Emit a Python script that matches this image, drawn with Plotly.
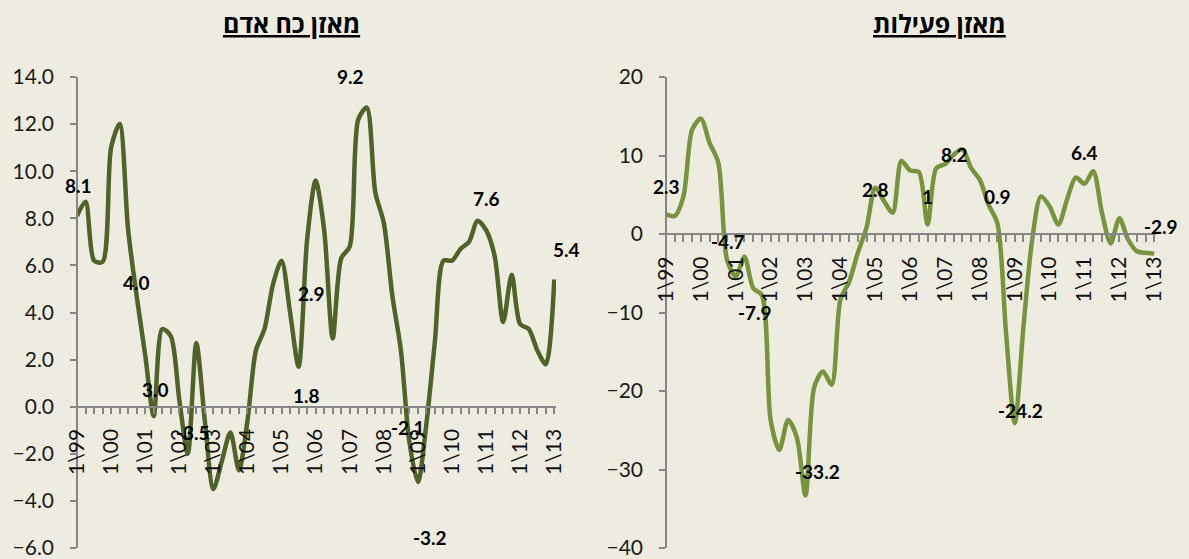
import plotly.graph_objects as go

# Quarterly data, 1/1999 .. 1/2013 (57 quarters)
tick_years = ["99", "00", "01", "02", "03", "04", "05", "06", "07", "08", "09", "10", "11", "12", "13"]
tick_labels = ["1\\" + y for y in tick_years]

manpower = [8.1, 8.7, 6.2, 6.15, 11.0, 12.0, 7.5, 4.7, 2.2, -0.4, 3.3, 3.0, 0.3, -2.0, 2.7, -0.6,
            -3.5, -2.3, -1.1, -2.7, -0.6, 2.4, 3.3, 5.2, 6.2, 4.0, 1.7, 7.1, 9.6, 7.5, 2.9, 6.3,
            6.8, 12.2, 12.7, 9.1, 7.8, 4.7, 2.4, -1.5, -3.2, -0.7, 2.8, 6.2, 6.2, 6.7, 7.0, 7.9,
            7.5, 6.4, 3.6, 5.6, 3.5, 3.3, 2.4, 1.8, 5.4]

activity = [2.5, 2.3, 4.8, 13.3, 14.7, 11.6, 9.1, -3.3, -5.4, -2.9, -6.9, -7.8, -23.7, -27.5, -23.7, -25.9,
            -33.3, -19.5, -17.5, -19.2, -8.4, -6.1, -2.4, 0.8, 5.9, 4.2, 2.7, 9.3, 8.1, 7.9, 1.2, 8.4,
            8.9, 10.1, 10.8, 8.4, 6.9, 3.7, 1.4, -12.6, -24.1, -11.8, -0.7, 4.8, 3.5, 1.2, 4.4, 7.2,
            6.4, 8.0, 2.7, -1.2, 2.0, -0.7, -2.2, -2.4, -2.5]

# data labels: (quarter index, text)
manpower_labels = [(0, "8.1"), (7, "4.0"), (9, "3.0"), (16, "-3.5"), (26, "1.8"), (30, "2.9"),
                   (34, "9.2"), (39, "-2.1"), (40, "-3.2"), (48, "7.6"), (56, "5.4")]
activity_labels = [(0, "2.3"), (7, "-4.7"), (11, "-7.9"), (16, "-33.2"), (24, "2.8"), (30, "1"),
                   (33, "8.2"), (38, "0.9"), (40, "-24.2"), (48, "6.4"), (56, "-2.9")]

title_left = "מאזן כח אדם"
title_right = "מאזן פעילות"

# label pixel offsets (style)
off_left = [(1, 30), (0, 14), (2, 27), (-20, 57), (8, -29), (-21, 45), (-16, 31), (-1, 15), (12, -55), (0, 32), (12, 30)]
off_right = [(0, 28), (1, 18), (-7, -17), (12, 24), (0, -2), (0, 28), (1, 0), (0, 27), (6, 13), (0, 31), (7, 27)]

n = len(manpower)
xs = list(range(n))
tickvals = xs
ticktext = [tick_labels[i // 4] if i % 4 == 0 else "" for i in xs]

FONT = "Lato, Open Sans, sans-serif"
BG = "#EEECE1"
AX = "#868686"
W, H = 1189, 559


def px(x):
    return x / W


def py(y):
    return 1 - y / H


fig = go.Figure()
fig.add_trace(go.Scatter(x=xs, y=manpower, mode="lines", xaxis="x", yaxis="y",
                         line=dict(color="#4F6228", width=4.5, shape="spline", smoothing=0.8),
                         hoverinfo="skip", showlegend=False))
fig.add_trace(go.Scatter(x=xs, y=activity, mode="lines", xaxis="x2", yaxis="y2",
                         line=dict(color="#77933C", width=4.5, shape="spline", smoothing=0.8),
                         hoverinfo="skip", showlegend=False))

ydom = [py(548), py(77)]
xcommon = dict(range=[0, 56.2], tickmode="array", tickvals=tickvals, ticktext=ticktext,
               tickangle=-90, ticks="outside", ticklen=7, tickcolor=AX, tickwidth=1.5,
               showline=True, linecolor=AX, linewidth=1.5, showgrid=False, zeroline=False,
               ticklabelstandoff=6, ticklabeloverflow="allow",
               tickfont=dict(family=FONT, size=21, color="#111111"), anchor="free")
ycommon = dict(ticks="outside", ticklen=6, tickcolor=AX, tickwidth=1.5, showline=True,
               linecolor=AX, linewidth=1.5, showgrid=False, zeroline=False, domain=ydom,
               ticklabelstandoff=12, ticklabeloverflow="allow",
               tickfont=dict(family=FONT, size=21, color="#1a1a1a"), anchor="free")

fig.update_layout(
    width=W, height=H, paper_bgcolor=BG, plot_bgcolor=BG,
    margin=dict(l=0, r=0, t=0, b=0, autoexpand=False),
    xaxis=dict(domain=[px(77), px(556)], position=py(406.7), **xcommon),
    yaxis=dict(range=[-6, 14], dtick=2, tickformat=".1f", position=px(77), **ycommon),
    xaxis2=dict(domain=[px(666), px(1156)], position=py(234.3), **xcommon),
    yaxis2=dict(range=[-40, 20], dtick=10, position=px(666), **ycommon),
)

ann = []
for (i, t), (dx, dy) in zip(manpower_labels, off_left):
    ann.append(dict(x=i, y=manpower[i], xref="x", yref="y", text="<b>" + t + "</b>", showarrow=False,
                    xanchor="center", yanchor="middle",
                    xshift=dx, yshift=dy, font=dict(family=FONT, size=19, color="#000000")))
for (i, t), (dx, dy) in zip(activity_labels, off_right):
    ann.append(dict(x=i, y=activity[i], xref="x2", yref="y2", text="<b>" + t + "</b>", showarrow=False,
                    xanchor="center", yanchor="middle",
                    xshift=dx, yshift=dy, font=dict(family=FONT, size=19, color="#000000")))
ann.append(dict(x=px(291), y=py(24), xref="paper", yref="paper", text="<b>" + title_left + "</b>",
                xanchor="center", yanchor="middle",
                showarrow=False, font=dict(family=FONT, size=25, color="#000000", lineposition="under")))
ann.append(dict(x=px(939), y=py(24), xref="paper", yref="paper", text="<b>" + title_right + "</b>",
                xanchor="center", yanchor="middle",
                showarrow=False, font=dict(family=FONT, size=25, color="#000000", lineposition="under")))
fig.update_layout(annotations=ann)

fig.write_html("out.html", config={"displayModeBar": False},
               post_script="document.body.style.margin='0';document.body.style.background='#EEECE1';"
                           "window.dispatchEvent(new Event('resize'));")
